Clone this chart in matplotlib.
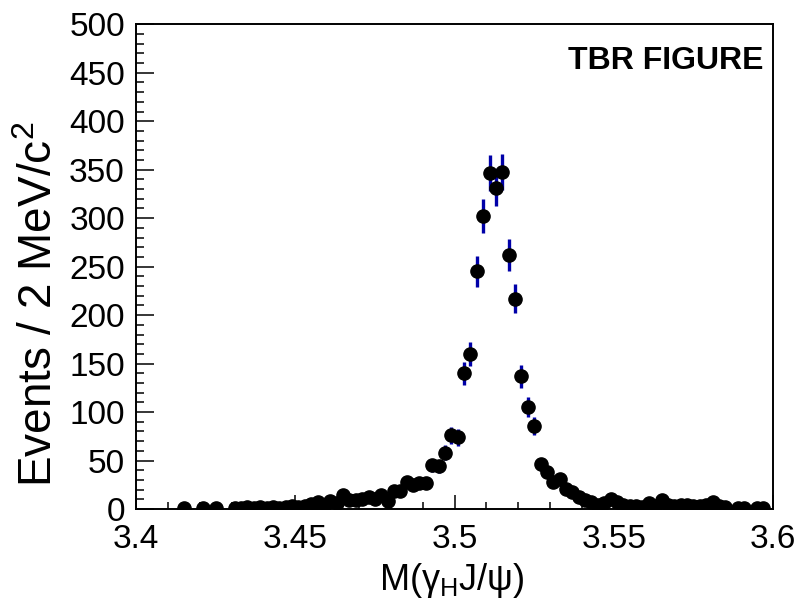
import numpy as np
import matplotlib
matplotlib.use('Agg')
import matplotlib.pyplot as plt
from matplotlib.ticker import MultipleLocator

# 2 MeV bins from 3.40 to 3.60 GeV
bin_lo, bin_hi, bin_w = 3.40, 3.60, 0.002
counts = [
    0, 0, 0, 0, 0, 0, 0, 1, 0, 0,
    1, 0, 1, 0, 0, 1, 1, 2, 1, 2,
    1, 2, 1, 2, 3, 2, 3, 5, 7, 3,
    8, 6, 14, 9, 9, 10, 12, 10, 14, 8,
    19, 19, 28, 25, 27, 27, 45, 44, 58, 76,
    74, 140, 160, 245, 302, 347, 331, 348, 262, 217,
    137, 105, 86, 46, 38, 28, 31, 21, 18, 12,
    9, 7, 4, 6, 10, 7, 4, 3, 3, 2,
    6, 3, 9, 4, 3, 4, 4, 3, 3, 4,
    7, 3, 2, 0, 1, 1, 0, 1, 1, 0,
]
xlabel = r'M($\gamma_{\rm H}$J/$\psi$)'
ylabel = r'Events / 2 MeV/c$^{\rm 2}$'
tag = 'TBR FIGURE'

plt.rcParams['font.family'] = ['Liberation Sans', 'DejaVu Sans']
plt.rcParams['mathtext.fontset'] = 'custom'
plt.rcParams['mathtext.rm'] = 'Liberation Sans'
plt.rcParams['mathtext.it'] = 'Liberation Sans'

counts = np.array(counts, dtype=float)
centers = bin_lo + bin_w * (np.arange(len(counts)) + 0.5)
keep = counts > 0
x, y = centers[keep], counts[keep]
err = np.sqrt(y)

fig = plt.figure(figsize=(7.98, 6.06), dpi=100)
ax = fig.add_axes([0.1704, 0.160, 0.7983, 0.800])

ax.errorbar(x, y, yerr=err, fmt='none', ecolor='#0000a8', elinewidth=2.4,
            capsize=0, zorder=2)
ax.plot(x, y, 'o', color='black', markersize=9.5, zorder=3)

ax.set_xlim(bin_lo, bin_hi)
ax.set_ylim(0, 500)
ax.xaxis.set_minor_locator(MultipleLocator(0.01))
ax.yaxis.set_major_locator(MultipleLocator(50))
ax.yaxis.set_minor_locator(MultipleLocator(10))
ax.set_xticks([3.4, 3.45, 3.5, 3.55, 3.6])
ax.set_xticklabels(['3.4', '3.45', '3.5', '3.55', '3.6'])

ax.tick_params(axis='both', which='both', direction='in', top=False, right=False,
               width=1.1, labelsize=24)
ax.tick_params(axis='y', which='major', length=13, pad=8)
ax.tick_params(axis='y', which='minor', length=6)
ax.tick_params(axis='x', which='major', length=10, pad=11)
ax.tick_params(axis='x', which='minor', length=5)
for s in ax.spines.values():
    s.set_linewidth(1.4)

ax.text(0.985, 0.925, tag, transform=ax.transAxes, ha='right', va='center',
        fontsize=23, fontweight='bold')

fig.text(452 / 798, 1 - 580 / 606, xlabel, ha='center', va='center', fontsize=26)
fig.text(40 / 798, 1 - 304 / 606, ylabel, ha='center', va='center', rotation=90,
         fontsize=33)

fig.savefig('out.png', dpi=100, facecolor='white')
